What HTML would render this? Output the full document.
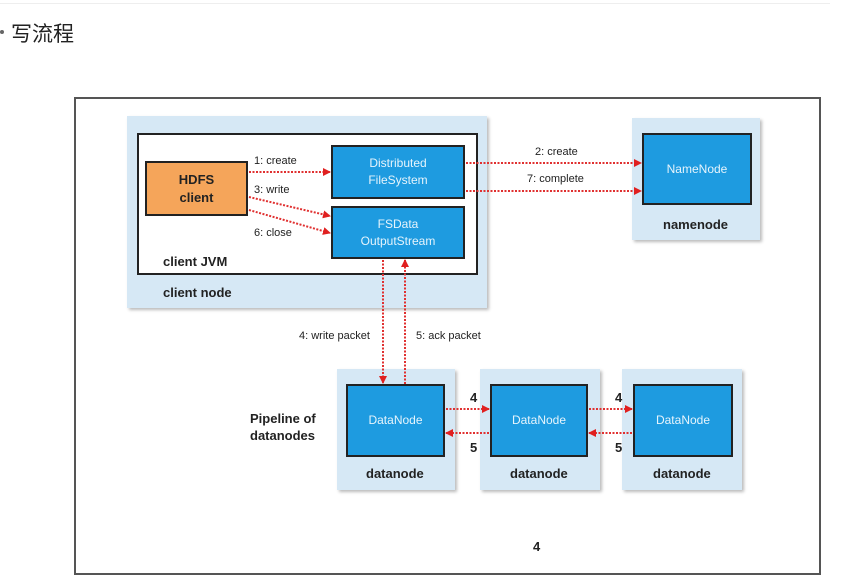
<!DOCTYPE html>
<html><head><meta charset="utf-8"><style>
body{margin:0;width:860px;height:580px;background:#fff;position:relative;overflow:hidden;font-family:"Liberation Sans","Noto Sans CJK SC",sans-serif}
.a{position:absolute;box-sizing:border-box}
.lb{background:#d6e8f5;box-shadow:2px 2px 3px #bbb}
.bl{background:#1e9be0;border:2px solid #222;color:#e6f4fc;font-size:12px;display:flex;align-items:center;justify-content:center;text-align:center;line-height:17px}
.t{position:absolute;font-size:11px;color:#222;white-space:nowrap}
.b{font-weight:bold;font-size:13px;color:#222;position:absolute;white-space:nowrap}
</style></head><body>
<div class="a" style="left:0;top:3px;width:830px;height:1px;background:#eee"></div>
<div class="a" style="left:0;top:30px;width:4px;height:4px;border-radius:2px;background:#666"></div>
<div class="a" style="left:11px;top:18px;font-size:21px;color:#222">写流程</div>
<div class="a" style="left:74px;top:97px;width:747px;height:478px;border:2px solid #555"></div>
<div class="a lb" style="left:127px;top:116px;width:360px;height:192px"></div>
<div class="a" style="left:137px;top:133px;width:341px;height:142px;border:2px solid #222;background:#fff"></div>
<div class="a" style="left:145px;top:161px;width:103px;height:55px;background:#f5a55a;border:2px solid #222;font-weight:bold;font-size:13px;color:#222;display:flex;align-items:center;justify-content:center;text-align:center;line-height:18px">HDFS<br>client</div>
<div class="a bl" style="left:331px;top:145px;width:134px;height:54px">Distributed<br>FileSystem</div>
<div class="a bl" style="left:331px;top:206px;width:134px;height:53px">FSData<br>OutputStream</div>
<div class="b" style="left:163px;top:254px">client JVM</div>
<div class="b" style="left:163px;top:285px">client node</div>
<div class="a lb" style="left:632px;top:118px;width:128px;height:122px"></div>
<div class="a bl" style="left:642px;top:133px;width:110px;height:72px">NameNode</div>
<div class="b" style="left:663px;top:217px">namenode</div>
<div class="a lb" style="left:337px;top:369px;width:118px;height:121px"></div>
<div class="a bl" style="left:346px;top:384px;width:99px;height:73px">DataNode</div>
<div class="b" style="left:366px;top:466px">datanode</div>
<div class="a lb" style="left:480px;top:369px;width:120px;height:121px"></div>
<div class="a bl" style="left:490px;top:384px;width:98px;height:73px">DataNode</div>
<div class="b" style="left:510px;top:466px">datanode</div>
<div class="a lb" style="left:622px;top:369px;width:120px;height:121px"></div>
<div class="a bl" style="left:633px;top:384px;width:100px;height:73px">DataNode</div>
<div class="b" style="left:653px;top:466px">datanode</div>
<div class="b" style="left:250px;top:410px;line-height:17px">Pipeline of<br>datanodes</div>
<div class="t" style="left:254px;top:155px">1: create</div>
<div class="t" style="left:254px;top:184px">3: write</div>
<div class="t" style="left:254px;top:227px">6: close</div>
<div class="t" style="left:535px;top:146px">2: create</div>
<div class="t" style="left:527px;top:173px">7: complete</div>
<div class="t" style="left:299px;top:330px">4: write packet</div>
<div class="t" style="left:416px;top:330px">5: ack packet</div>
<div class="b" style="left:470px;top:390px">4</div>
<div class="b" style="left:470px;top:440px">5</div>
<div class="b" style="left:615px;top:390px">4</div>
<div class="b" style="left:615px;top:440px">5</div>
<div class="b" style="left:533px;top:539px">4</div>
<svg class="a" style="left:0;top:0" width="860" height="580">
<defs><marker id="m" markerWidth="8" markerHeight="8" refX="7" refY="4" orient="auto" markerUnits="userSpaceOnUse"><path d="M0,0L8,4L0,8z" fill="#e02020"/></marker></defs>
<g stroke="#e03030" stroke-width="2" stroke-dasharray="2,1.5" fill="none" marker-end="url(#m)">
<line x1="249" y1="172" x2="330" y2="172"/>
<line x1="249" y1="197" x2="330" y2="216"/>
<line x1="249" y1="210" x2="330" y2="233"/>
<line x1="466" y1="163" x2="641" y2="163"/>
<line x1="466" y1="191" x2="641" y2="191"/>
<line x1="383" y1="260" x2="383" y2="383"/>
<line x1="405" y1="384" x2="405" y2="260"/>
<line x1="446" y1="409" x2="489" y2="409"/>
<line x1="489" y1="433" x2="446" y2="433"/>
<line x1="589" y1="409" x2="632" y2="409"/>
<line x1="632" y1="433" x2="589" y2="433"/>
</g></svg>
</body></html>
